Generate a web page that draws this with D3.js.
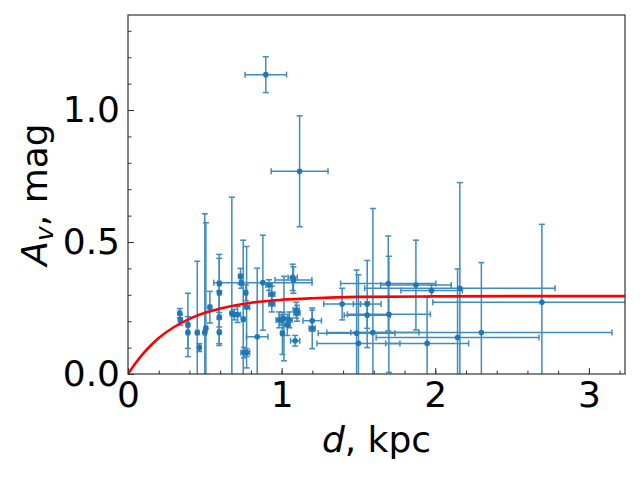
<!DOCTYPE html>
<html>
<head>
<meta charset="utf-8">
<script src="https://cdn.jsdelivr.net/npm/d3@7"></script>
<style>
body { margin: 0; background: white; }
text { font-family: "DejaVu Sans", sans-serif; }
</style>
</head>
<body>
<script>
// distances (kpc), extinctions (mag) and their errors
var dist  = [0.337, 0.34, 0.39, 0.39, 0.451, 0.464, 0.50, 0.507, 0.533, 0.594,
             0.594, 0.594, 0.594, 0.676, 0.692, 0.713, 0.732, 0.737, 0.75, 0.755,
             0.772, 0.767, 0.772, 0.841, 0.878, 0.918, 0.936, 0.936, 0.984, 0.997,
             1.005, 1.015, 1.037, 1.05, 1.072, 1.077, 1.088, 1.095, 1.10, 1.117,
             0.897, 1.199, 1.199, 1.394, 1.488, 1.50, 1.557, 1.557, 1.594, 1.694,
             1.698, 1.874, 1.947, 1.976, 2.145, 2.16, 2.30, 2.694]
var av    = [0.230, 0.205, 0.186, 0.157, 0.157, 0.100, 0.157, 0.173, 0.253, 0.343,
             0.308, 0.215, 0.158, 0.230, 0.225, 0.225, 0.370, 0.345, 0.207, 0.081,
             0.081, 0.308, 0.253, 0.141, 0.346, 0.337, 0.303, 0.265, 0.205, 0.205,
             0.154, 0.210, 0.186, 0.205, 0.366, 0.356, 0.126, 0.242, 0.230, 0.768,
             1.134, 0.202, 0.173, 0.265, 0.154, 0.116, 0.265, 0.223, 0.157, 0.343,
             0.226, 0.337, 0.116, 0.316, 0.138, 0.325, 0.157, 0.272]
var distErr = [0.01, 0.01, 0.01, 0.01, 0.01, 0.01, 0.01, 0.01, 0.01, 0.01,
               0.01, 0.01, 0.01, 0.01, 0.02, 0.02, 0.01, 0.01, 0.01, 0.02,
               0.02, 0.01, 0.02, 0.07, 0.32, 0.02, 0.02, 0.02, 0.02, 0.01,
               0.01, 0.03, 0.02, 0.02, 0.03, 0.12, 0.03, 0.02, 0.02, 0.185,
               0.135, 0.06, 0.02, 0.12, 0.25, 0.27, 0.09, 0.15, 0.30, 0.31,
               0.27, 0.23, 0.27, 0.20, 0.53, 0.62, 0.85, 0.71]
var avErr = [0.018, 0.02, 0.12, 0.06, 0.27, 0.015, 0.45, 0.40, 0.06, 0.11,
             0.13, 0.10, 0.05, 0.44, 0.02, 0.03, 0.03, 0.02, 0.30, 0.02,
             0.015, 0.03, 0.23, 0.26, 0.18, 0.02, 0.03, 0.03, 0.03, 0.02,
             0.08, 0.16, 0.04, 0.03, 0.05, 0.05, 0.02, 0.03, 0.03, 0.21,
             0.068, 0.04, 0.077, 0.06, 0.24, 0.26, 0.165, 0.05, 0.47, 0.18,
             0.22, 0.17, 0.175, 0.02, 0.26, 0.40, 0.265, 0.295]

// red model curve
var fitD = [0, 0.05, 0.1, 0.15, 0.2, 0.3, 0.4, 0.5, 0.6, 0.8, 1.0, 1.2, 1.5, 2.0, 2.5, 3.0, 3.25]
var fitA = [0, 0.042, 0.078, 0.109, 0.136, 0.178, 0.209, 0.232, 0.248, 0.27, 0.281, 0.287, 0.292, 0.294, 0.295, 0.295, 0.295]

var xTicks = [0, 1, 2, 3]
var yTicks = [0.0, 0.5, 1.0]

var mLeft = 128, mTop = 15, mRight = 625, mBottom = 374
var blue = '#1f77b4'

var svg = d3.select('body').append('svg')
	.attr('width', 640)
	.attr('height', 480)

var x = d3.scaleLinear().domain([0, 3.235]).range([mLeft, mRight])
var y = d3.scaleLinear().domain([0, 1.36]).range([mBottom, mTop])

svg.append('clipPath').attr('id', 'plotclip')
	.append('rect')
	.attr('x', mLeft).attr('y', mTop)
	.attr('width', mRight - mLeft).attr('height', mBottom - mTop)

var plot = svg.append('g').attr('clip-path', 'url(#plotclip)')

var pts = d3.range(dist.length).map(function(i) {
	return {d: dist[i], a: av[i], ed: distErr[i], ea: avErr[i]}
})

//error bars
var bars = plot.append('g')
	.attr('stroke', blue)
	.attr('stroke-width', 1.5)
	.attr('fill', 'none')
	.attr('opacity', 0.85)

pts.forEach(function(p) {
	var cx = x(p.d), cy = y(p.a)
	var x0 = x(p.d - p.ed), x1 = x(p.d + p.ed)
	var y0 = y(p.a - p.ea), y1 = y(p.a + p.ea)
	bars.append('line').attr('x1', x0).attr('x2', x1).attr('y1', cy).attr('y2', cy)
	bars.append('line').attr('x1', cx).attr('x2', cx).attr('y1', y0).attr('y2', y1)
	// caps
	bars.append('line').attr('x1', x0).attr('x2', x0).attr('y1', cy - 3).attr('y2', cy + 3)
	bars.append('line').attr('x1', x1).attr('x2', x1).attr('y1', cy - 3).attr('y2', cy + 3)
	bars.append('line').attr('x1', cx - 3).attr('x2', cx + 3).attr('y1', y0).attr('y2', y0)
	bars.append('line').attr('x1', cx - 3).attr('x2', cx + 3).attr('y1', y1).attr('y2', y1)
})

//markers
plot.append('g').selectAll('circle')
	.data(pts)
	.enter().append('circle')
	.attr('cx', function(p) { return x(p.d) })
	.attr('cy', function(p) { return y(p.a) })
	.attr('r', 2.8)
	.attr('fill', blue)

//fit line
var line = d3.line()
	.x(function(d, i) { return x(fitD[i]) })
	.y(function(d, i) { return y(fitA[i]) })
	.curve(d3.curveMonotoneX)

plot.append('path')
	.datum(fitD)
	.attr('d', line)
	.attr('fill', 'none')
	.attr('stroke', 'red')
	.attr('stroke-width', 2.6)

//frame
svg.append('rect')
	.attr('x', mLeft).attr('y', mTop)
	.attr('width', mRight - mLeft).attr('height', mBottom - mTop)
	.attr('fill', 'none')
	.attr('stroke', '#333')
	.attr('stroke-width', 1.2)

//ticks, pointing inward
var axisX = d3.axisBottom(x).tickValues(xTicks).tickSize(-6).tickPadding(10).tickFormat(d3.format('d'))
var axisXmin = d3.axisBottom(x).tickValues(d3.range(0.2, 3.22, 0.2)).tickSize(-3.5).tickFormat('')
var axisY = d3.axisLeft(y).tickValues(yTicks).tickSize(-6).tickPadding(10).tickFormat(d3.format('.1f'))
var axisYmin = d3.axisLeft(y).tickValues(d3.range(0.1, 1.35, 0.1)).tickSize(-3.5).tickFormat('')

svg.append('g').attr('transform', 'translate(0,' + mBottom + ')').call(axisXmin)
svg.append('g').attr('transform', 'translate(' + mLeft + ',0)').call(axisYmin)
var gx = svg.append('g').attr('transform', 'translate(0,' + mBottom + ')').call(axisX)
var gy = svg.append('g').attr('transform', 'translate(' + mLeft + ',0)').call(axisY)

svg.selectAll('.domain').remove()
svg.selectAll('.tick line').attr('stroke', '#333').attr('stroke-width', 1)

gx.selectAll('text')
	.attr('font-size', 36)
	.attr('fill', 'black')
	.attr('dy', '0.71em')
	.attr('y', 7)
gy.selectAll('text')
	.attr('font-size', 36)
	.attr('fill', 'black')
	.attr('x', -8)

//axis labels
var xl = svg.append('text')
	.attr('x', (mLeft + mRight) / 2)
	.attr('y', 452)
	.attr('text-anchor', 'middle')
	.attr('font-size', 36)
xl.append('tspan').attr('font-style', 'italic').text('d')
xl.append('tspan').text(', kpc')

var yl = svg.append('text')
	.attr('transform', 'translate(47,' + (mTop + mBottom) / 2 + ') rotate(-90)')
	.attr('text-anchor', 'middle')
	.attr('font-size', 36)
yl.append('tspan').attr('font-style', 'italic').text('A')
yl.append('tspan').attr('font-style', 'italic').attr('font-size', 25).attr('dy', 6).text('v')
yl.append('tspan').attr('dy', -6).text(', mag')
</script>
</body>
</html>
